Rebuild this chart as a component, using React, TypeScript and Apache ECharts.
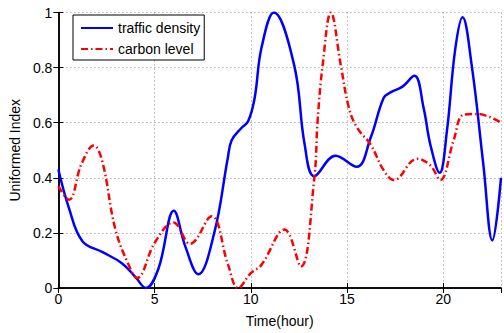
import React, { useEffect, useRef } from "react";
import * as echarts from "echarts";

const trafficHours = [0, 0.55, 1.25, 2.3, 3.3, 4.0, 4.55, 5.2, 6.0, 6.6, 7.27, 8.1, 8.8, 9.0, 9.5, 9.86, 10.2, 10.55, 11.2, 12.25, 12.8, 13.3, 14.4, 15.5, 16.23, 16.9, 17.26, 17.86, 18.5, 18.98, 19.33, 19.81, 20.19, 20.62, 21.0, 21.48, 22.08, 22.55, 23];
const trafficValues = [0.43, 0.29, 0.17, 0.13, 0.09, 0.04, 0.0, 0.07, 0.28, 0.15, 0.05, 0.2, 0.47, 0.535, 0.58, 0.605, 0.69, 0.87, 1.0, 0.81, 0.52, 0.406, 0.48, 0.44, 0.546, 0.69, 0.71, 0.73, 0.77, 0.653, 0.52, 0.418, 0.57, 0.866, 0.983, 0.807, 0.45, 0.173, 0.4];

const carbonHours = [0, 0.55, 1.2, 1.84, 2.27, 2.96, 3.65, 4.08, 5.03, 5.98, 6.84, 7.96, 8.82, 9.34, 10.0, 10.54, 11.75, 12.6, 13.3, 13.47, 13.73, 14.16, 14.68, 15.1, 15.54, 16.23, 16.9, 17.43, 18.64, 19.33, 19.84, 20.53, 21.05, 21.74, 23];
const carbonValues = [0.37, 0.32, 0.45, 0.517, 0.463, 0.214, 0.084, 0.036, 0.167, 0.238, 0.16, 0.26, 0.084, 0.0, 0.054, 0.083, 0.212, 0.078, 0.4, 0.606, 0.807, 1.0, 0.807, 0.653, 0.58, 0.52, 0.428, 0.392, 0.469, 0.445, 0.392, 0.534, 0.629, 0.632, 0.6];

const seriesNames = ["traffic density", "carbon level"];
const xAxisName = "Time(hour)";
const yAxisName = "Uniformed Index";

const FONT = "Liberation Sans";

export default function App() {
  const ref = useRef<HTMLDivElement>(null);
  useEffect(() => {
    if (!ref.current) return;
    const chart = echarts.init(ref.current, undefined, { renderer: "svg" });
    const pair = (xs: number[], ys: number[]) => xs.map((x, i) => [x, ys[i]]);
    const gridLine = { show: true, lineStyle: { color: "#8a8a8a", type: [1, 3], width: 1 } };
    chart.setOption({
      animation: false,
      backgroundColor: "#ffffff",
      grid: { left: 56, right: 3, top: 12.5, bottom: 39.5, containLabel: false },
      legend: {
        orient: "vertical",
        left: 73,
        top: 15,
        padding: [6, 4, 4, 7],
        itemGap: 7,
        itemWidth: 32,
        itemHeight: 14,
        backgroundColor: "#ffffff",
        borderColor: "#000000",
        borderWidth: 1,
        borderRadius: 0,
        itemStyle: { opacity: 0 },
        textStyle: { fontFamily: FONT, fontSize: 14, color: "#000" },
        data: seriesNames,
      },
      xAxis: [
        {
          type: "value",
          min: 0,
          max: 23,
          interval: 5,
          position: "bottom",
          name: xAxisName,
          nameLocation: "middle",
          nameGap: 26,
          nameTextStyle: { fontFamily: FONT, fontSize: 14, color: "#000" },
          axisLine: { show: true, lineStyle: { color: "#000", width: 1.5 } },
          axisTick: { show: true, inside: true, length: 5, lineStyle: { color: "#000" } },
          axisLabel: { fontFamily: FONT, fontSize: 14, color: "#000", margin: 4, showMaxLabel: false },
          splitLine: gridLine,
        },
        {
          type: "value",
          min: 0,
          max: 23,
          interval: 5,
          position: "top",
          axisLine: { show: true, lineStyle: { color: "#000", width: 1.5 } },
          axisTick: { show: true, inside: true, length: 5, lineStyle: { color: "#000" } },
          axisLabel: { show: false },
          splitLine: { show: false },
        },
      ],
      yAxis: [
        {
          type: "value",
          min: 0,
          max: 1,
          interval: 0.2,
          position: "left",
          name: yAxisName,
          nameLocation: "middle",
          nameGap: 30,
          nameTextStyle: { fontFamily: FONT, fontSize: 14, color: "#000" },
          axisLine: { show: true, lineStyle: { color: "#000", width: 1.5 } },
          axisTick: { show: true, inside: true, length: 5, lineStyle: { color: "#000" } },
          axisLabel: { fontFamily: FONT, fontSize: 14, color: "#000", margin: 6 },
          splitLine: gridLine,
        },
        {
          type: "value",
          min: 0,
          max: 1,
          interval: 0.2,
          position: "right",
          axisLine: { show: true, lineStyle: { color: "#000", width: 1.5 } },
          axisTick: { show: true, inside: true, length: 5, lineStyle: { color: "#000" } },
          axisLabel: { show: false },
          splitLine: { show: false },
        },
      ],
      series: [
        {
          name: seriesNames[0],
          type: "line",
          xAxisIndex: 0,
          yAxisIndex: 0,
          data: pair(trafficHours, trafficValues),
          smooth: 0.4,
          showSymbol: false,
          symbol: "none",
          color: "#0000ff",
          lineStyle: { color: "#0000ff", width: 2.5, type: "solid" },
          clip: true,
        },
        {
          name: seriesNames[1],
          type: "line",
          xAxisIndex: 0,
          yAxisIndex: 0,
          data: pair(carbonHours, carbonValues),
          smooth: 0.4,
          showSymbol: false,
          symbol: "none",
          color: "#ff0000",
          lineStyle: { color: "#ff0000", width: 2.5, type: [7, 3, 1.5, 3] },
          clip: true,
        },
      ],
    });
    return () => chart.dispose();
  }, []);
  return <div ref={ref} style={{ width: 504, height: 333, position: "absolute", left: 0, top: 0 }} />;
}
